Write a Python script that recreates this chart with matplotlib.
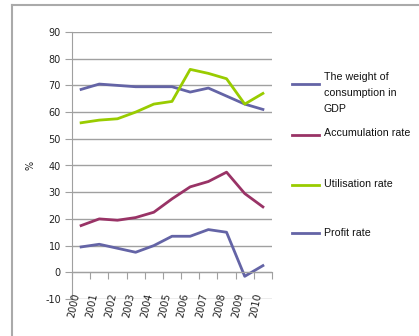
import matplotlib
matplotlib.use("Agg")
import matplotlib.pyplot as plt
from matplotlib.lines import Line2D
import matplotlib.transforms as mtransforms

years = ["2000", "2001", "2002", "2003", "2004", "2005", "2006", "2007", "2008", "2009", "2010"]
consumption = [68.5, 70.5, 70, 69.5, 69.5, 69.5, 67.5, 69, 66, 63, 61]
accumulation = [17.5, 20, 19.5, 20.5, 22.5, 27.5, 32, 34, 37.5, 29.5, 24.5]
utilisation = [56, 57, 57.5, 60, 63, 64, 76, 74.5, 72.5, 63, 67]
profit = [9.5, 10.5, 9, 7.5, 10, 13.5, 13.5, 16, 15, -1.5, 2.5]

series_names = ["The weight of\nconsumption in\nGDP", "Accumulation rate", "Utilisation rate", "Profit rate"]
series_vals = [consumption, accumulation, utilisation, profit]
colors = ["#6464a6", "#993366", "#99cc00", "#6464a6"]
yticks = list(range(-10, 91, 10))

W, H = 419, 336
fig = plt.figure(figsize=(W / 100, H / 100), dpi=100)
fig.patch.set_facecolor("white")

# chart border (left + top)
fig.add_artist(Line2D([12 / W, 12 / W], [0, 1 - 5 / H], color="#aaaaaa", lw=1.5))
fig.add_artist(Line2D([12 / W, 1], [1 - 5 / H, 1 - 5 / H], color="#aaaaaa", lw=1.5))

ax = fig.add_axes([72 / W, 1 - 299 / H, 200 / W, 267 / H])
x = [i + 0.5 for i in range(len(years))]
for vals, c in zip(series_vals, colors):
    ax.plot(x, vals, color=c, lw=2, solid_joinstyle="round")

ax.set_xlim(0, len(years))
ax.set_ylim(-10, 90)
ax.set_yticks(yticks)
ax.set_yticklabels([str(v) for v in yticks], fontsize=7, family="DejaVu Sans", color="#222222")
ax.yaxis.grid(True, color="#a0a0a0", lw=1)
ax.set_axisbelow(True)
for s in ["top", "right"]:
    ax.spines[s].set_visible(False)
ax.spines["left"].set_color("#a0a0a0")
ax.spines["bottom"].set_position(("data", 0))
ax.spines["bottom"].set_color("#a0a0a0")
ax.tick_params(axis="y", length=5, color="#a0a0a0", pad=3)
ax.set_xticks(range(len(years) + 1))
ax.set_xticklabels([])
ax.tick_params(axis="x", length=5, color="#a0a0a0", direction="out")

trans = mtransforms.blended_transform_factory(ax.transData, ax.transAxes)
for i, yr in enumerate(years):
    ax.text(i + 0.12, -0.025, yr, transform=trans, rotation=78, ha="center", va="center",
            fontsize=7, family="DejaVu Sans", color="#222222")

fig.text(31 / W, 1 - 165 / H, "%", rotation=90, ha="center", va="center", fontsize=7,
         family="DejaVu Sans", color="#222222")

# legend
leg_line_y = [84, 135, 185, 233]
leg_text_y = [93, 133, 184, 233]
for name, c, ly, ty in zip(series_names, colors, leg_line_y, leg_text_y):
    fig.add_artist(Line2D([292 / W, 319 / W], [1 - ly / H, 1 - ly / H], color=c, lw=2))
    fig.text(324 / W, 1 - ty / H, name, ha="left", va="center", fontsize=7.7,
             family="Liberation Sans", color="#111111", linespacing=1.75)

fig.savefig("out.png", dpi=100)
